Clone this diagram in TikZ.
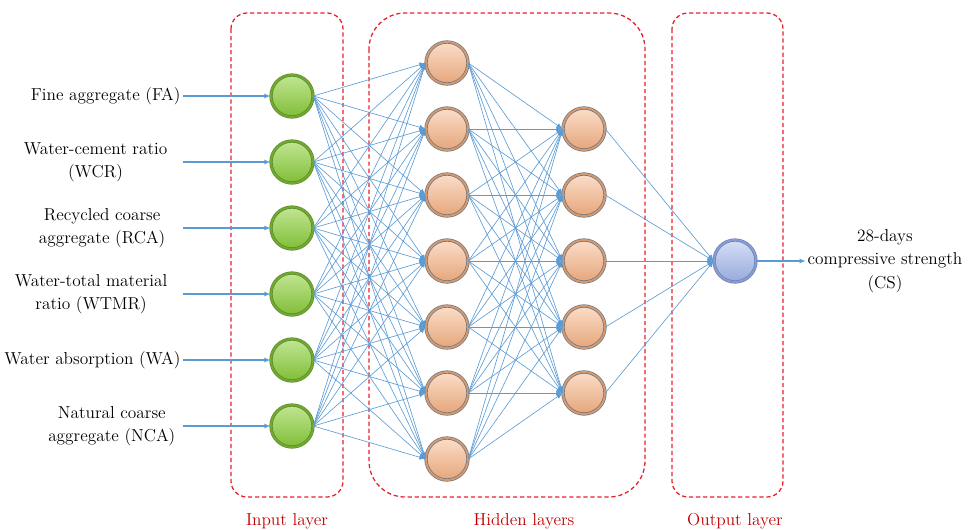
\documentclass[tikz,border=0pt]{standalone}
\usepackage{xcolor}
\usepackage{tikz}
\usetikzlibrary{arrows.meta}
\usetikzlibrary{positioning}
\definecolor{netblue}{HTML}{5B9BD5}
\definecolor{boxred}{HTML}{E8202A}
\definecolor{capred}{HTML}{C00000}
\definecolor{ingreen}{HTML}{8ED23C}
\definecolor{ingreenrim}{HTML}{5A8A2C}
\definecolor{hidorange}{HTML}{F8B485}
\definecolor{hidrim}{HTML}{66707E}
\definecolor{outblue}{HTML}{A4B8EE}
\definecolor{outrim}{HTML}{6680BE}
\tikzset{>={Latex[length=4.5pt,width=3.5pt]}}
\tikzstyle{unit} = [circle, minimum size = 1.05cm, inner sep = 0, line width = 0.45pt, double distance = 1.4pt]
\tikzstyle{inp} = [unit, draw = ingreenrim, double = ingreen!80!black, top color = ingreen!55!white, middle color = ingreen, bottom color = ingreen!90!black]
\tikzstyle{hid} = [unit, draw = hidrim, double = hidorange!85!black, top color = hidorange!45!white, middle color = hidorange, bottom color = hidorange!92!black]
\tikzstyle{outp} = [unit, draw = outrim, double = outblue!85!black, top color = outblue!45!white, middle color = outblue, bottom color = outblue!92!black]
\tikzstyle{link} = [->, draw = netblue, line width = 0.45pt]
\tikzstyle{feed} = [->, draw = netblue, line width = 0.9pt]
\tikzstyle{layerbox} = [draw = boxred, dash pattern = on 3pt off 2pt, line width = 0.9pt]
\tikzstyle{caption} = [text = capred, anchor = base, inner sep = 0]
\tikzstyle{lbl} = [align = center, inner sep = 1pt]

\begin{document}
\begin{tikzpicture}[x=0.025cm, y=-0.025cm, font=\fontsize{12.3}{16.5}\selectfont]
\useasboundingbox (0,0) rectangle (968,529);
% layer frames
\draw [layerbox, rounded corners = 0.4cm] (231,13) rectangle (343,497);
\draw [layerbox, rounded corners = 0.9cm] (369,13) rectangle (645,497);
\draw [layerbox, rounded corners = 0.4cm] (672,13) rectangle (783,497);
% neurons
\foreach \i/\y in {1/96, 2/162, 3/228, 4/294, 5/360, 6/426} {
  \node [inp] (i\i) at (292, \y) {};
  \coordinate (s\i) at (183, \y);
}
\foreach \j/\y in {1/63, 2/129, 3/195, 4/261, 5/327, 6/393, 7/459}
  \node [hid] (h\j) at (447, \y) {};
\foreach \k/\y in {1/129, 2/195, 3/261, 4/327, 5/393}
  \node [hid] (g\k) at (584, \y) {};
\node [outp] (o) at (735, 261) {};
% weights
\foreach \i in {1,...,6}
  \foreach \j in {1,...,7}
    \draw [link] (i\i.east) -- (h\j.west);
\foreach \j in {1,...,7}
  \foreach \k in {1,...,5}
    \draw [link] (h\j.east) -- (g\k.west);
\foreach \k in {1,...,5}
  \draw [link] (g\k.east) -- (o.west);
% inputs
\node [lbl, left = 0.02cm of s1] (fa) {Fine aggregate (FA)};
\node [lbl, left = 0.35cm of s2] (wcr) {Water-cement ratio\\(WCR)};
\node [lbl, left = 0.4cm of s3] (rca) {Recycled coarse\\aggregate (RCA)};
\node [lbl, left = 0.35cm of s4] (wtmr) {Water-total material\\ratio (WTMR)};
\node [lbl, left = 0.02cm of s5] (wa) {Water absorption (WA)};
\node [lbl, left = 0.15cm of s6] (nca) {Natural coarse\\aggregate (NCA)};
\foreach \i in {1,...,6}
  \draw [feed] (s\i) -- (i\i.west);
% output
\node [lbl, anchor = west] (cs) at (806, 261) {28-days\\compressive strength\\(CS)};
\draw [feed] (o.east) -- (cs.west);
% captions
\node [caption] (capin) at (287, 525) {Input layer};
\node [caption] (caphid) at (524, 525) {Hidden layers};
\node [caption] (capout) at (735, 525) {Output layer};
\end{tikzpicture}
\end{document}
